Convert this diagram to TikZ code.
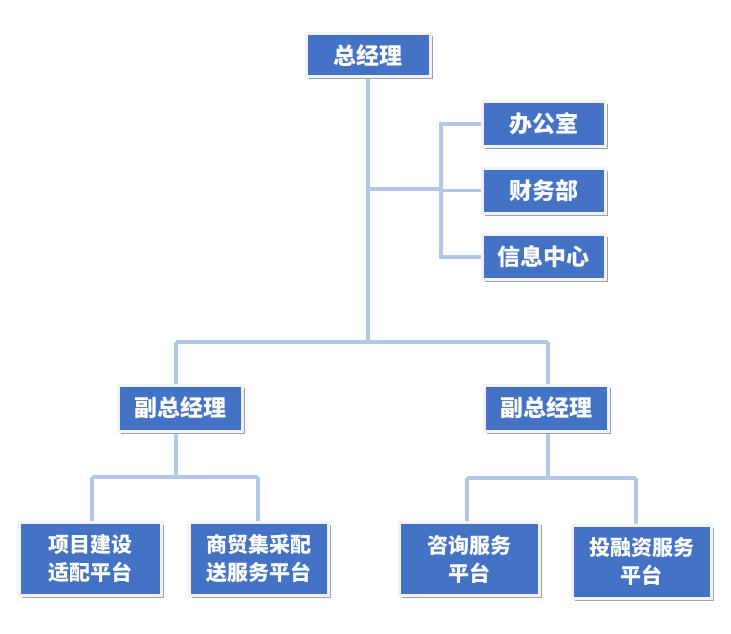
\documentclass[tikz,border=0pt]{standalone}
\usepackage{fontspec}
\newfontfamily\cjk{Noto Sans CJK SC}
\usetikzlibrary{shadows,backgrounds}
\definecolor{boxblue}{HTML}{4472C4}
\definecolor{linkblue}{HTML}{B4C7E7}
\definecolor{rimgray}{HTML}{F2F2F2}
\definecolor{shadowgray}{HTML}{9AA3B5}
\begin{document}
\begin{tikzpicture}[x=1pt,y=-1pt,
  orgbox/.style={draw=rimgray, line width=3pt, fill=boxblue, text=white,
    font=\cjk\bfseries\fontsize{23}{28}\selectfont, inner sep=0pt, align=center,
    drop shadow={shadow xshift=2.5pt, shadow yshift=-2.5pt, fill=shadowgray, opacity=1}},
  twoline/.style={font=\cjk\bfseries\fontsize{21}{28}\selectfont},
  link/.style={draw=linkblue, line width=3.5pt}]
\path[use as bounding box] (0,0) rectangle (731,634);
\node[orgbox, minimum width=124pt, minimum height=43pt] (gm) at (368,55.5) {总经理};
\node[orgbox, minimum width=123pt, minimum height=45pt] (o1) at (543.5,124) {办公室};
\node[orgbox, minimum width=123pt, minimum height=45pt] (o2) at (543.5,190.5) {财务部};
\node[orgbox, minimum width=123pt, minimum height=45pt] (o3) at (543.5,257) {信息中心};
\node[orgbox, minimum width=124pt, minimum height=46pt] (v1) at (180,408) {副总经理};
\node[orgbox, minimum width=124pt, minimum height=46pt] (v2) at (546.5,408) {副总经理};
\node[orgbox, twoline, minimum width=142pt, minimum height=73pt] (b1) at (90,558.5) {项目建设\\适配平台};
\node[orgbox, twoline, minimum width=139pt, minimum height=73pt] (b2) at (258.5,558.5) {商贸集采配\\送服务平台};
\node[orgbox, twoline, minimum width=140pt, minimum height=73pt] (b3) at (469,559) {咨询服务\\平台};
\node[orgbox, twoline, minimum width=139pt, minimum height=73pt] (b4) at (641.5,561.5) {投融资服务\\平台};
\coordinate (trunk) at (368,342);
\coordinate (tee) at (368,189);
\coordinate (busx) at (441,0);
\coordinate (lx) at (176,0);
\coordinate (rx) at (548,0);
\coordinate (lbar) at (0,477);
\coordinate (rbar) at (0,478);
\begin{pgfonlayer}{background}
\draw[link] (gm.south) -- (trunk);
\draw[link] (tee) -- (tee -| busx);
\draw[link] (o1.west) -| (busx |- o3.west) -- (o3.west);
\draw[link] (o2.west) -- (o2.west -| busx);
\draw[link] (trunk -| lx) -- (trunk -| rx);
\draw[link] (trunk -| lx) -- (v1.north -| lx);
\draw[link] (trunk -| rx) -- (v2.north -| rx);
\draw[link] (v1.south -| lx) -- (lbar -| lx);
\draw[link] ([xshift=2pt]b1.north |- lbar) -- ([xshift=-0.5pt]b2.north |- lbar);
\draw[link] ([xshift=2pt]b1.north |- lbar) -- ([xshift=2pt]b1.north);
\draw[link] ([xshift=-0.5pt]b2.north |- lbar) -- ([xshift=-0.5pt]b2.north);
\draw[link] (v2.south -| rx) -- (rbar -| rx);
\draw[link] ([xshift=-2pt]b3.north |- rbar) -- ([xshift=-5.5pt]b4.north |- rbar);
\draw[link] ([xshift=-2pt]b3.north |- rbar) -- ([xshift=-2pt]b3.north);
\draw[link] ([xshift=-5.5pt]b4.north |- rbar) -- ([xshift=-5.5pt]b4.north);
\end{pgfonlayer}
\end{tikzpicture}
\end{document}
